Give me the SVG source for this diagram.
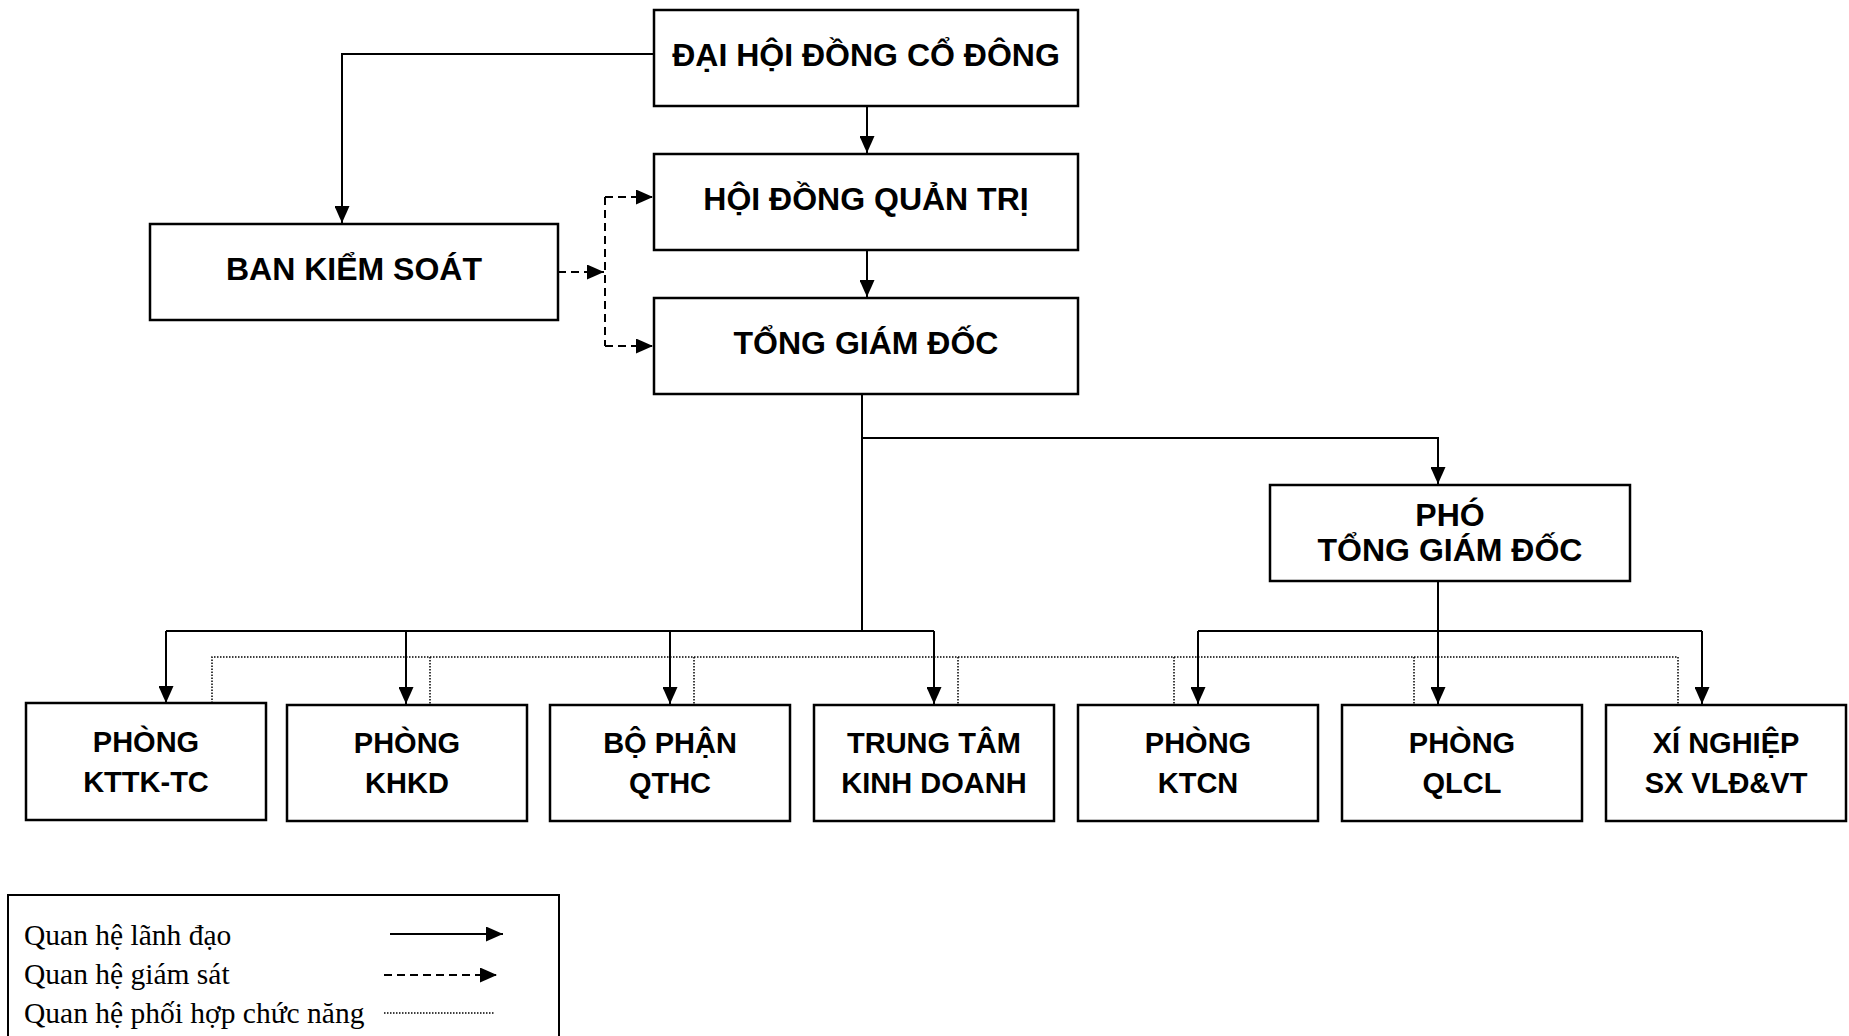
<svg xmlns="http://www.w3.org/2000/svg" width="1849" height="1036" viewBox="0 0 1849 1036">
<style>
.box{fill:#fff;stroke:#000;stroke-width:2.5}
.t{font-family:"Liberation Sans",Arial,sans-serif;font-weight:bold;font-size:32px;text-anchor:middle;fill:#000}
.t2{font-size:29px}
.ln{fill:none;stroke:#000;stroke-width:2}
.dash{stroke-dasharray:8 5}
.dot{stroke-width:1.5;stroke-dasharray:1.5 1.5}
.leg{font-family:"Liberation Serif","Times New Roman",serif;font-size:29.5px;fill:#000}
</style>
<defs>
<marker id="arr" markerUnits="userSpaceOnUse" markerWidth="17" markerHeight="15" refX="17" refY="7.5" orient="auto">
<path d="M0,0 L17,7.5 L0,15 z" fill="#000" stroke="none"/>
</marker>
</defs>
<rect width="1849" height="1036" fill="#fff"/>

<g id="connectors">
<path class="ln" d="M654,54 H342 V223" marker-end="url(#arr)"/>
<path class="ln" d="M867,106 V153" marker-end="url(#arr)"/>
<path class="ln" d="M867,250 V297" marker-end="url(#arr)"/>
<path class="ln dash" d="M558,272 H604" marker-end="url(#arr)"/>
<path class="ln dash" d="M605,197 V346"/>
<path class="ln dash" d="M605,197 H653" marker-end="url(#arr)"/>
<path class="ln dash" d="M605,346 H653" marker-end="url(#arr)"/>
<path class="ln" d="M862,394 V631"/>
<path class="ln" d="M862,438 H1438 V484" marker-end="url(#arr)"/>
<path class="ln" d="M166,631 H934"/>
<path class="ln" d="M166,631 V703" marker-end="url(#arr)"/>
<path class="ln" d="M406,631 V704" marker-end="url(#arr)"/>
<path class="ln" d="M670,631 V704" marker-end="url(#arr)"/>
<path class="ln" d="M934,631 V704" marker-end="url(#arr)"/>
<path class="ln" d="M1438,581 V704" marker-end="url(#arr)"/>
<path class="ln" d="M1198,631 H1702"/>
<path class="ln" d="M1198,631 V704" marker-end="url(#arr)"/>
<path class="ln" d="M1702,631 V704" marker-end="url(#arr)"/>
<path class="ln dot" d="M212,703 V657 H1678 V704 M430,657 V705 M694,657 V705 M958,657 V705 M1174,657 V705 M1414,657 V705"/>
</g>

<g id="dhdcd"><rect class="box" x="654" y="10" width="424" height="96"/><text class="t" x="866" y="66">ĐẠI HỘI ĐỒNG CỔ ĐÔNG</text></g>
<g id="hdqt"><rect class="box" x="654" y="154" width="424" height="96"/><text class="t" x="866" y="210">HỘI ĐỒNG QUẢN TRỊ</text></g>
<g id="tgd"><rect class="box" x="654" y="298" width="424" height="96"/><text class="t" x="866" y="354">TỔNG GIÁM ĐỐC</text></g>
<g id="bks"><rect class="box" x="150" y="224" width="408" height="96"/><text class="t" x="354" y="280">BAN KIỂM SOÁT</text></g>
<g id="ptgd"><rect class="box" x="1270" y="485" width="360" height="96"/><text class="t" x="1450" y="526">PHÓ</text><text class="t" x="1450" y="561">TỔNG GIÁM ĐỐC</text></g>

<g id="kttk"><rect class="box" x="26" y="703" width="240" height="117"/><text class="t t2" x="146" y="752">PHÒNG</text><text class="t t2" x="146" y="792">KTTK-TC</text></g>
<g id="khkd"><rect class="box" x="287" y="705" width="240" height="116"/><text class="t t2" x="407" y="753">PHÒNG</text><text class="t t2" x="407" y="793">KHKD</text></g>
<g id="qthc"><rect class="box" x="550" y="705" width="240" height="116"/><text class="t t2" x="670" y="753">BỘ PHẬN</text><text class="t t2" x="670" y="793">QTHC</text></g>
<g id="ttkd"><rect class="box" x="814" y="705" width="240" height="116"/><text class="t t2" x="934" y="753">TRUNG TÂM</text><text class="t t2" x="934" y="793">KINH DOANH</text></g>
<g id="ktcn"><rect class="box" x="1078" y="705" width="240" height="116"/><text class="t t2" x="1198" y="753">PHÒNG</text><text class="t t2" x="1198" y="793">KTCN</text></g>
<g id="qlcl"><rect class="box" x="1342" y="705" width="240" height="116"/><text class="t t2" x="1462" y="753">PHÒNG</text><text class="t t2" x="1462" y="793">QLCL</text></g>
<g id="xn"><rect class="box" x="1606" y="705" width="240" height="116"/><text class="t t2" x="1726" y="753">XÍ NGHIỆP</text><text class="t t2" x="1726" y="793">SX VLĐ&amp;VT</text></g>

<g id="legend">
<rect x="8" y="895" width="551" height="160" fill="#fff" stroke="#000" stroke-width="2"/>
<text class="leg" x="24" y="945">Quan hệ lãnh đạo</text>
<text class="leg" x="24" y="984">Quan hệ giám sát</text>
<text class="leg" x="24" y="1023">Quan hệ phối hợp chức năng</text>
<path class="ln" d="M390,934 H503" marker-end="url(#arr)"/>
<path class="ln dash" d="M384,975 H497" marker-end="url(#arr)"/>
<path class="ln dot" d="M384,1013 H495"/>
</g>
</svg>
